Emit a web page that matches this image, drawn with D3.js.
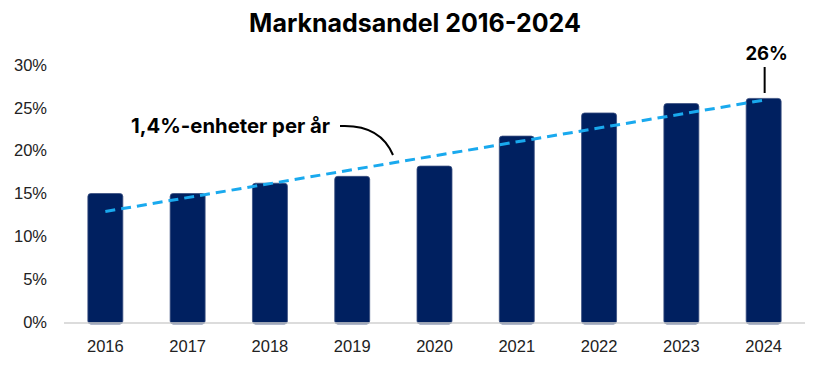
<!DOCTYPE html>
<html lang="sv">
<head>
  <meta charset="UTF-8">
  <title>Marknadsandel 2016-2024</title>
  <style>
    html, body { margin: 0; padding: 0; background: #fff; }
    svg { display: block; }
    text { font-family: Inter, "Open Sans", sans-serif; }
  </style>
</head>
<body>
  <svg id="chart" width="820" height="367"></svg>
  <script src="https://d3js.org/d3.v7.min.js"></script>
  <script>
    const years = ["2016", "2017", "2018", "2019", "2020", "2021", "2022", "2023", "2024"];
    const shares = [15.0, 15.0, 16.2, 17.0, 18.2, 21.7, 24.4, 25.5, 26.1];
    const yTicks = [0, 5, 10, 15, 20, 25, 30];
    // trendlinjen, ändpunkter
    const trendYears = ["2016", "2024"];
    const trendValues = [12.9, 25.9];

    const W = 820, H = 367;
    const margin = { top: 65, right: 15, bottom: 45, left: 64 };
    const axisFont = "'Liberation Sans', Arial, sans-serif";

    const svg = d3.select("#chart");

    const x = d3.scaleBand()
      .domain(years)
      .range([margin.left, W - margin.right])
      .paddingInner(0.575)
      .paddingOuter(0.29);

    const y = d3.scaleLinear()
      .domain([0, 30])
      .range([H - margin.bottom, margin.top]);

    // titel
    svg.append("text")
      .attr("x", 415)
      .attr("y", 32)
      .attr("text-anchor", "middle")
      .attr("font-size", 25)
      .attr("font-weight", 700)
      .attr("fill", "#000")
      .text("Marknadsandel 2016-2024");

    // y-axel (bara etiketter)
    const yAxis = d3.axisLeft(y)
      .tickValues(yTicks)
      .tickFormat(d => d + "%")
      .tickSize(0)
      .tickPadding(0);
    const gy = svg.append("g")
      .attr("transform", `translate(47,0)`)
      .call(yAxis);
    gy.select(".domain").remove();
    gy.selectAll("text")
      .attr("font-size", 16.5)
      .attr("fill", "#222")
      .style("font-family", axisFont);

    // staplar
    svg.append("g")
      .selectAll("rect")
      .data(years)
      .join("rect")
      .attr("x", d => x(d))
      .attr("y", (d, i) => y(shares[i]))
      .attr("width", x.bandwidth())
      .attr("height", (d, i) => y(0) - y(shares[i]) + 2)
      .attr("rx", 3)
      .attr("fill", "#002060")
      .attr("stroke", "#3a4f80")
      .attr("stroke-width", 0.8);

    // baslinje
    svg.append("line")
      .attr("x1", margin.left)
      .attr("x2", W - margin.right)
      .attr("y1", y(0) + 1)
      .attr("y2", y(0) + 1)
      .attr("stroke", "#d0d0d0")
      .attr("stroke-width", 1.5);

    // x-axel
    const xAxis = d3.axisBottom(x).tickSize(0).tickPadding(0);
    const gx = svg.append("g")
      .attr("transform", `translate(0,${y(0) + 30})`)
      .call(xAxis);
    gx.select(".domain").remove();
    gx.selectAll("text")
      .attr("dy", 0)
      .attr("font-size", 16.5)
      .attr("fill", "#222")
      .style("font-family", axisFont);

    // trendlinje
    const cx = d => x(d) + x.bandwidth() / 2;
    svg.append("path")
      .datum(trendYears.map((d, i) => [cx(d), y(trendValues[i])]))
      .attr("d", d3.line())
      .attr("fill", "none")
      .attr("stroke", "#19a9ee")
      .attr("stroke-width", 3)
      .attr("stroke-dasharray", "10,6");

    // etikett 26%
    const last = years[years.length - 1];
    svg.append("text")
      .attr("x", cx(last) + 3)
      .attr("y", 60)
      .attr("text-anchor", "middle")
      .attr("font-size", 18.5)
      .attr("font-weight", 700)
      .text(Math.round(shares[shares.length - 1]) + "%");
    svg.append("line")
      .attr("x1", cx(last) + 1).attr("x2", cx(last) + 1)
      .attr("y1", 67).attr("y2", 93)
      .attr("stroke", "#000").attr("stroke-width", 2);

    // annotering för lutningen
    svg.append("text")
      .attr("x", 131)
      .attr("y", 133)
      .attr("font-size", 20.3)
      .attr("font-weight", 700)
      .text("1,4%-enheter per år");
    svg.append("path")
      .attr("d", "M340,126 Q380,124 393,155")
      .attr("fill", "none")
      .attr("stroke", "#000")
      .attr("stroke-width", 2);
  </script>
</body>
</html>
